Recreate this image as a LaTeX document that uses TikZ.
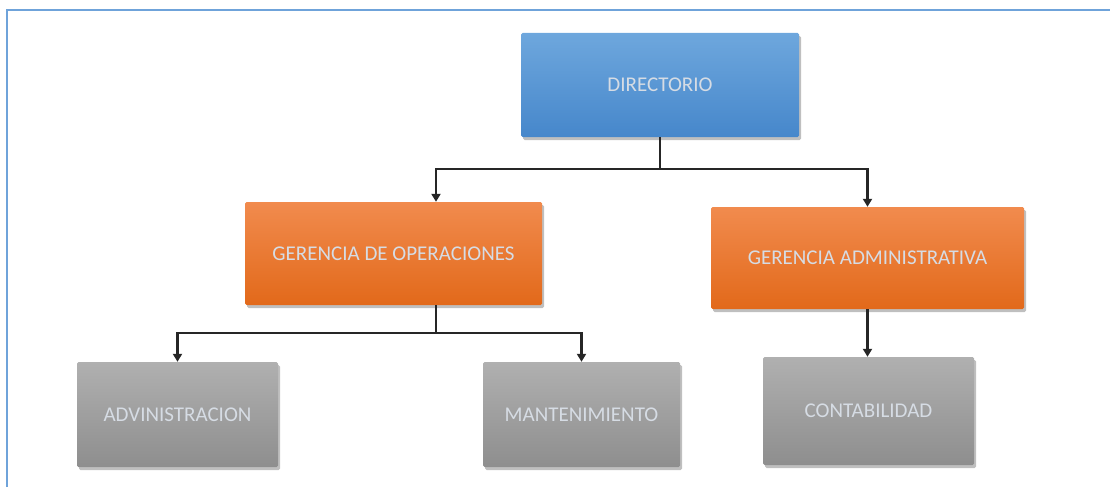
\documentclass[tikz,border=0pt]{standalone}
\usepackage{fontspec}
\setmainfont{Carlito}
\usetikzlibrary{arrows.meta,shadows}
\definecolor{frameblue}{HTML}{6FA3DA}
\definecolor{bluetop}{HTML}{6EA7DD}
\definecolor{bluebot}{HTML}{4687CB}
\definecolor{orgtop}{HTML}{F18B4E}
\definecolor{orgbot}{HTML}{E2691A}
\definecolor{graytop}{HTML}{B0B0B0}
\definecolor{graybot}{HTML}{8E8E8E}
\definecolor{txt}{HTML}{D6DCE4}
\tikzset{
  box/.style={rectangle, rounded corners=1.5pt, inner sep=0pt, font=\fontsize{21}{24}\selectfont, text=txt,
    drop shadow={shadow xshift=2pt, shadow yshift=-3pt, fill=black, opacity=0.25}},
  bluebox/.style={box, top color=bluetop, bottom color=bluebot},
  orangebox/.style={box, top color=orgtop, bottom color=orgbot},
  graybox/.style={box, top color=graytop, bottom color=graybot},
  conn/.style={draw=black!85, line width=2.2pt, -{Triangle[length=8pt,width=9pt]}},
}
\begin{document}
\begin{tikzpicture}[x=1pt,y=-1pt]
\useasboundingbox (0,0) rectangle (1110,487);
\draw[frameblue, line width=2pt] (7,487) -- (7,10) -- (1110,10);
\node[bluebox, minimum width=278pt, minimum height=104pt] (dir) at (660,85) {DIRECTORIO};
\node[orangebox, minimum width=297pt, minimum height=103pt] (gop) at (393.5,253.5) {GERENCIA DE OPERACIONES};
\node[orangebox, minimum width=313pt, minimum height=102pt] (gad) at (867.5,258) {GERENCIA ADMINISTRATIVA};
\node[graybox, minimum width=201pt, minimum height=105pt] (adm) at (177.5,414.5) {ADVINISTRACION};
\node[graybox, minimum width=197pt, minimum height=105pt] (man) at (581.5,414.5) {MANTENIMIENTO};
\node[graybox, minimum width=211pt, minimum height=108pt] (con) at (868.5,411) {CONTABILIDAD};
\coordinate (j1) at (660,169);
\coordinate (j2) at (436,333);
\draw[conn] (dir.south) -- (j1) -| (gop.north -| 436,0);
\draw[conn] (j1) -| (gad.north);
\draw[conn] (gop.south -| 436,0) -- (j2) -| (adm.north);
\draw[conn] (j2) -| (man.north);
\draw[conn] (gad.south) -- (gad.south |- con.north);
\end{tikzpicture}
\end{document}
